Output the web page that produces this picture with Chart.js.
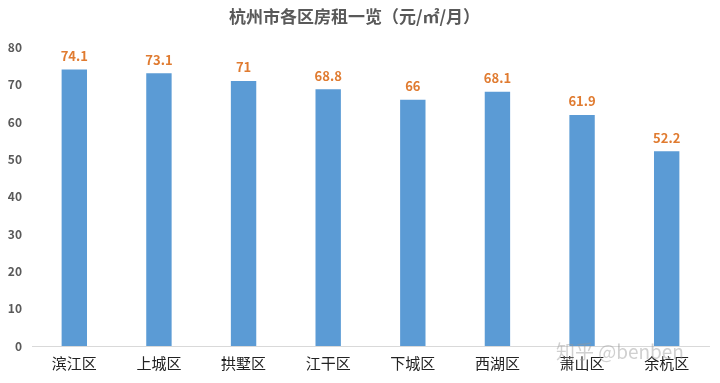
<!DOCTYPE html>
<html><head><meta charset="utf-8">
<script src="https://cdn.jsdelivr.net/npm/chart.js@4/dist/chart.umd.min.js"></script>
<style>html,body{margin:0;padding:0;background:#fff;}#wrap{width:720px;height:383px;position:relative;}</style>
</head><body><div id="wrap"><canvas id="c" width="720" height="383"></canvas></div>
<script>
const categories = ["滨江区","上城区","拱墅区","江干区","下城区","西湖区","萧山区","余杭区"];
const rents = [74.1, 73.1, 71, 68.8, 66, 68.1, 61.9, 52.2];
const titleText = "杭州市各区房租一览（元/㎡/月）";
const watermark = "知乎 @benben";
const FONT = "'Noto Sans CJK SC','Noto Sans',sans-serif";

const labelPlugin = {
  id: 'valLabels',
  afterDatasetsDraw(chart) {
    const ctx = chart.ctx;
    const meta = chart.getDatasetMeta(0);
    ctx.save();
    ctx.font = "bold 13px " + FONT;
    ctx.fillStyle = "#E07B30";
    ctx.textAlign = "center";
    ctx.textBaseline = "bottom";
    meta.data.forEach((bar, i) => {
      ctx.fillText(String(rents[i]), bar.x, bar.y - 7);
    });
    ctx.restore();
  },
  afterDraw(chart) {
    const ctx = chart.ctx;
    ctx.save();
    ctx.font = "19px " + FONT;
    ctx.fillStyle = "rgba(150,150,150,0.45)";
    ctx.textAlign = "left";
    ctx.textBaseline = "middle";
    ctx.fillText(watermark, 556, 352);
    ctx.restore();
  }
};

new Chart(document.getElementById('c'), {
  type: 'bar',
  data: { labels: categories, datasets: [{ data: rents, backgroundColor: '#5B9BD5', borderWidth: 0, barPercentage: 0.3, categoryPercentage: 1.0 }] },
  options: {
    responsive: false, animation: false,
    layout: { padding: { left: 0, right: 11, top: 0, bottom: 3 } },
    plugins: {
      legend: { display: false }, tooltip: { enabled: false },
      title: { display: true, text: titleText, color: '#595959', font: { family: FONT, size: 17, weight: 'bold' }, padding: { top: 6, bottom: 21 } }
    },
    scales: {
      x: { grid: { display: false, drawTicks: false }, border: { display: true, color: '#D9D9D9' },
           ticks: { color: '#222', font: { family: FONT, size: 15 }, padding: 8 } },
      y: { min: 0, max: 80, grid: { display: false, drawTicks: false }, border: { display: false },
           afterFit: (scale) => { scale.width = 32; },
           ticks: { stepSize: 10, color: '#595959', font: { family: FONT, size: 12, weight: 'bold' }, padding: 10 } }
    }
  },
  plugins: [labelPlugin]
});
</script></body></html>
